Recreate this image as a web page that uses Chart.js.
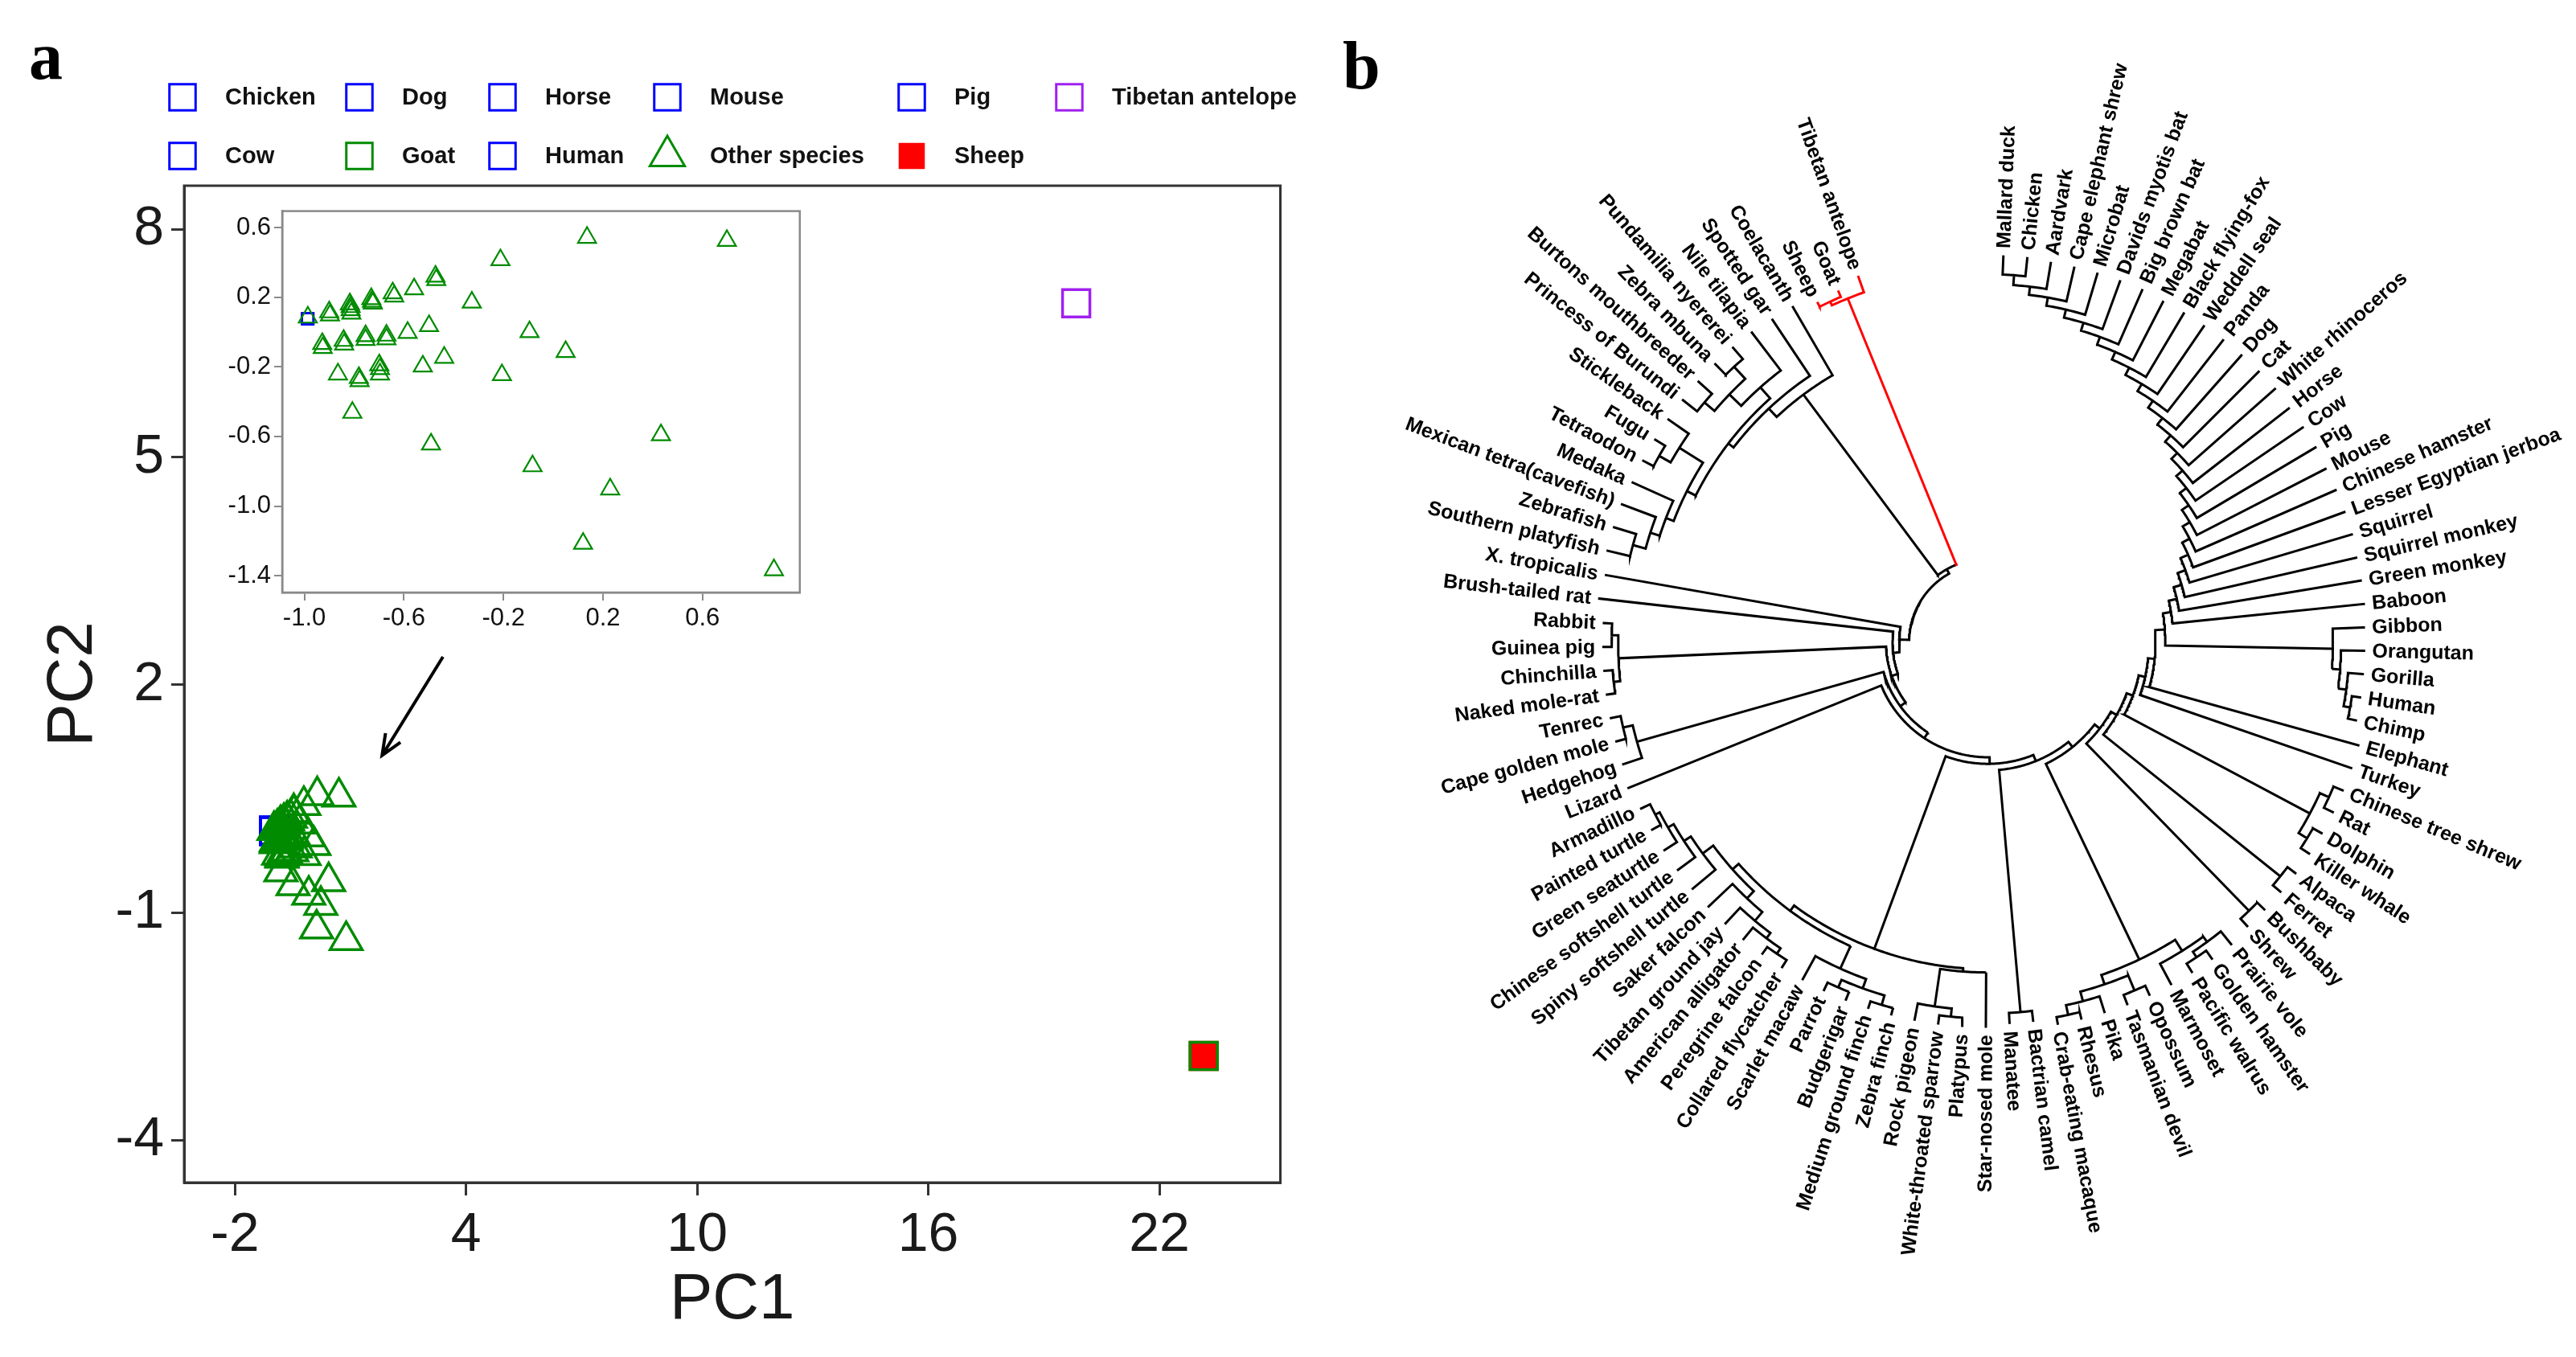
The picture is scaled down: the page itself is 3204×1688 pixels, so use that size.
<!DOCTYPE html>
<html>
<head>
<meta charset="utf-8">
<script src="https://cdn.jsdelivr.net/npm/chart.js@4.4.1/dist/chart.umd.min.js"></script>
<style>
  html, body { margin: 0; padding: 0; background: #fff; }
  body { position: relative; width: 3204px; height: 1688px; overflow: hidden; }
  canvas { position: absolute; }
  .panel-tag { position: absolute; font: bold 84px "Liberation Serif", "Times New Roman", serif; line-height: 1; color: #000; }
</style>
</head>
<body>
<div class="panel-tag" style="left:36px; top:28px;">a</div>
<div class="panel-tag" style="left:1670px; top:40px;">b</div>
<canvas id="pcaChart" width="1620" height="1688" style="left:0; top:0;"></canvas>
<canvas id="insetChart" width="780" height="570" style="left:230px; top:240px;"></canvas>
<canvas id="treeChart" width="1584" height="1688" style="left:1620px; top:0;"></canvas>
<script>
// ---------------- Panel a: PCA values ----------------
const pc1Ticks = [-2, 4, 10, 16, 22];
const pc2Ticks = [-4, -1, 2, 5, 8];
const insetPC1Ticks = [-1.0, -0.6, -0.2, 0.2, 0.6];
const insetPC2Ticks = [-1.4, -1.0, -0.6, -0.2, 0.2, 0.6];

const speciesNames = ['Chicken', 'Cow', 'Dog', 'Horse', 'Human', 'Mouse', 'Pig', 'Goat', 'Sheep', 'Tibetan antelope'];
const speciesPC1 = [-0.986, -0.986, -0.986, -0.986, -0.986, -0.986, -0.986, 23.15, 23.15, 19.84];
const speciesPC2 = [0.076, 0.076, 0.076, 0.076, 0.076, 0.076, 0.076, -2.89, -2.89, 7.03];

// "Other species" points
const otherPC1 = [0.136, 0.698, -0.212, -0.473, -0.470, -0.559, -0.645, -0.639, -0.731, -0.728,
                  -0.725, -0.817, -0.814, -0.814, -0.811, -0.327, -0.900, -0.897, -0.986, -0.499,
                  -0.095, -0.585, -0.670, -0.670, -0.754, -0.754, -0.842, -0.840, -0.928, -0.926,
                  0.050, -0.438, -0.524, -0.699, -0.696, -0.696, -0.865, -0.781, -0.778, -0.206,
                  -0.807, -0.491, 0.433, -0.083, 0.229, 0.120, 0.887];
const otherPC2 = [0.542, 0.524, 0.413, 0.319, 0.299, 0.246, 0.223, 0.205, 0.190, 0.175,
                  0.164, 0.160, 0.144, 0.126, 0.106, 0.170, 0.114, 0.096, 0.084, 0.035,
                  0.000, -0.004, -0.020, -0.041, -0.023, -0.045, -0.050, -0.071, -0.068, -0.091,
                  -0.114, -0.147, -0.197, -0.190, -0.212, -0.243, -0.243, -0.263, -0.281, -0.247,
                  -0.463, -0.645, -0.592, -0.770, -0.903, -1.215, -1.367];

// arrow from the inset down to the cluster (PC1, PC2)
const arrowFrom = [3.40, 2.37];
const arrowTo = [1.82, 1.07];

const legendOrder = ['Chicken', 'Cow', 'Dog', 'Goat', 'Horse', 'Human', 'Mouse', 'Other species', 'Pig', 'Sheep', 'Tibetan antelope'];

// ---------------- Panel b: tree values ----------------
const leafNames = [
  'Tibetan antelope', 'Goat', 'Sheep', 'Coelacanth', 'Spotted gar', 'Nile tilapia', 'Pundamilia nyererei',
  'Zebra mbuna', 'Burtons mouthbreeder', 'Princess of Burundi', 'Stickleback', 'Fugu', 'Tetraodon', 'Medaka',
  'Mexican tetra(cavefish)', 'Zebrafish', 'Southern platyfish', 'X. tropicalis', 'Brush-tailed rat', 'Rabbit',
  'Guinea pig', 'Chinchilla', 'Naked mole-rat', 'Tenrec', 'Cape golden mole', 'Hedgehog', 'Lizard', 'Armadillo',
  'Painted turtle', 'Green seaturtle', 'Chinese softshell turtle', 'Spiny softshell turtle', 'Saker falcon',
  'Tibetan ground jay', 'American alligator', 'Peregrine falcon', 'Collared flycatcher', 'Scarlet macaw', 'Parrot',
  'Budgerigar', 'Medium ground finch', 'Zebra finch', 'Rock pigeon', 'White-throated sparrow', 'Platypus',
  'Star-nosed mole', 'Manatee', 'Bactrian camel', 'Crab-eating macaque', 'Rhesus', 'Pika', 'Tasmanian devil',
  'Opossum', 'Marmoset', 'Pacific walrus', 'Golden hamster', 'Prairie vole', 'Shrew', 'Bushbaby', 'Ferret',
  'Alpaca', 'Killer whale', 'Dolphin', 'Rat', 'Chinese tree shrew', 'Turkey', 'Elephant', 'Chimp', 'Human',
  'Gorilla', 'Orangutan', 'Gibbon', 'Baboon', 'Green monkey', 'Squirrel monkey', 'Squirrel',
  'Lesser Egyptian jerboa', 'Chinese hamster', 'Mouse', 'Pig', 'Cow', 'Horse', 'White rhinoceros', 'Cat', 'Dog',
  'Panda', 'Weddell seal', 'Black flying-fox', 'Megabat', 'Big brown bat', 'Davids myotis bat', 'Microbat',
  'Cape elephant shrew', 'Aardvark', 'Chicken', 'Mallard duck'
];
const redLeaves = ['Tibetan antelope', 'Goat', 'Sheep'];

// clades in Newick form: leaf = index into leafNames, number after ':' = radial depth of that node
const cladeBovid = '(0:236,(1:232,2:231):228.5):226';
const cladeFish = '(3:236,(4:236,((5:237,((6:237,7:237):228,(8:237,9:237):226):218):208,((10:237,(11:237,12:237):230):222,(13:237,(14:238,(15:238,16:238):224):216):210):205):199):195):188';
const cladeRodent = '((19:234,20:234):229,(21:234,22:234):229):225';
const cladeTenrec = '((23:234,24:234):228,25:234):222';
const cladeTurtle = '((((27:234,28:234):228,29:234):225,30:234):221,31:234):216';
const cladeFalcon = '(32:234,(33:234,(34:234,(35:234,36:234):229):225):221):214';
const cladeParrot = '(37:234,((38:234,39:234):229,(40:234,41:234):230):224):218';
const cladePigeon = '((42:234,(43:234,44:234):229):224,45:234):201';
const cladeManatee = '(46:232,47:232):226';
const cladeMarsup = '((((48:236,49:236):232,50:236):226,(51:236,52:236):230):220,(53:236,((54:236,55:236):230,56:236):226):222):214';
const cladeWhale = '((61:234,62:234):228,(63:234,64:234):228):222';
const cladePrimate = '((((67:229,68:229):224,69:229):220,70:229):215,71:229):210';
const cladeStair = '(72:230,(73:230,(74:230,(75:231,(76:231,(77:231,(78:231,(79:232,(80:232,(81:232,(82:233,(83:233,(84:233,(85:233,(86:233,(87:233,(88:233,(89:234,(90:234,(91:234,(92:234,(93:234,(94:235,95:235):224):218):213):208):203):198):193):188):183):178):173):168):163):158):153):148):143):138):133):128):123):118):113';

const treeNewick =
  '((' + cladeBovid + ',' + cladeFish + '):51,' +
  '(17:236,(18:238,(' + cladeRodent + ',(' + cladeTenrec + ',(26:236,(' +
  '(((' + cladeTurtle + ',' + cladeFalcon + '):208,' + cladeParrot + '):203,' + cladePigeon + '):199,(' +
  cladeManatee + ',(' + cladeMarsup + ',((57:234,58:234):228,((59:234,60:234):228,(' +
  cladeWhale + ',(65:234,(66:234,(' + cladePrimate + ',' + cladeStair + '):108):102):98):94):90):86):82):78):74):70):66):62):58):54):48';

// ---------------- shared styles ----------------
const FONT = '"Liberation Sans", Arial, Helvetica, sans-serif';
const BLUE = '#0000FF', GREEN = '#008B00', PURPLE = '#A020F0', RED = '#FF0000';
const markerStyle = {
  'Chicken': { shape: 'rect', color: BLUE, fill: false },
  'Cow': { shape: 'rect', color: BLUE, fill: false },
  'Dog': { shape: 'rect', color: BLUE, fill: false },
  'Horse': { shape: 'rect', color: BLUE, fill: false },
  'Human': { shape: 'rect', color: BLUE, fill: false },
  'Mouse': { shape: 'rect', color: BLUE, fill: false },
  'Pig': { shape: 'rect', color: BLUE, fill: false },
  'Goat': { shape: 'rect', color: GREEN, fill: false },
  'Other species': { shape: 'triangle', color: GREEN, fill: false },
  'Sheep': { shape: 'rect', color: RED, fill: true },
  'Tibetan antelope': { shape: 'rect', color: PURPLE, fill: false }
};
Chart.defaults.font.family = FONT;

/**
 * Build scatter datasets; first in the list is drawn on top
 */
function pcaDatasets(names, squareRadius, triangleRadius, borderWidth) {
  return names.map(name => {
    const st = markerStyle[name];
    let data;
    if (name === 'Other species') {
      data = otherPC1.map((x, i) => ({ x: x, y: otherPC2[i] }));
    } else {
      const k = speciesNames.indexOf(name);
      data = [{ x: speciesPC1[k], y: speciesPC2[k] }];
    }
    return {
      label: name,
      data: data,
      pointStyle: st.shape,
      pointRadius: st.shape === 'triangle' ? triangleRadius : squareRadius,
      pointBorderWidth: borderWidth,
      pointBorderColor: st.color,
      pointBackgroundColor: st.fill ? st.color : 'rgba(0,0,0,0)'
    };
  });
}

function setTicks(values) {
  return scale => { scale.ticks = values.map(v => ({ value: v })); };
}

// box around the plotting area
function framePlugin(color, width) {
  return {
    id: 'frame',
    afterDraw(chart) {
      const { ctx, chartArea: a } = chart;
      ctx.save();
      ctx.strokeStyle = color;
      ctx.lineWidth = width;
      ctx.strokeRect(a.left, a.top, a.right - a.left, a.bottom - a.top);
      ctx.restore();
    }
  };
}

// white fill behind the inset plot
const insetBackground = {
  id: 'insetBackground',
  beforeDraw(chart) {
    const { ctx, chartArea: a } = chart;
    ctx.save();
    ctx.fillStyle = '#fff';
    ctx.fillRect(a.left, a.top, a.right - a.left, a.bottom - a.top);
    ctx.restore();
  }
};

function drawMarker(ctx, st, x, y, r, lw) {
  ctx.beginPath();
  if (st.shape === 'triangle') {
    for (let k = 0; k < 3; k++) {
      const a = k * 2 * Math.PI / 3;
      const px = x + Math.sin(a) * r, py = y - Math.cos(a) * r;
      if (k === 0) ctx.moveTo(px, py); else ctx.lineTo(px, py);
    }
    ctx.closePath();
  } else {
    const h = r * Math.SQRT1_2;
    ctx.rect(x - h, y - h, 2 * h, 2 * h);
  }
  if (st.fill) {
    ctx.fillStyle = st.color;
    ctx.fill();
  } else {
    ctx.strokeStyle = st.color;
    ctx.lineWidth = lw;
    ctx.stroke();
  }
}

// legend in two rows, filled column by column
const legendColX = [227, 447, 625, 830, 1134, 1330];
const legendRowY = [121, 194];
const pcaLegend = {
  id: 'pcaLegend',
  afterDraw(chart) {
    const ctx = chart.ctx;
    ctx.save();
    ctx.font = 'bold 29px ' + FONT;
    ctx.textBaseline = 'middle';
    legendOrder.forEach((name, i) => {
      const x = legendColX[Math.floor(i / 2)];
      const y = legendRowY[i % 2];
      const st = markerStyle[name];
      drawMarker(ctx, st, x, y, st.shape === 'triangle' ? 25 : 23, 3);
      ctx.fillStyle = '#111';
      ctx.fillText(name, x + 53, y + 1);
    });
    ctx.restore();
  }
};

const insetArrow = {
  id: 'insetArrow',
  afterDatasetsDraw(chart) {
    const { ctx, scales: { x, y } } = chart;
    const x0 = x.getPixelForValue(arrowFrom[0]), y0 = y.getPixelForValue(arrowFrom[1]);
    const x1 = x.getPixelForValue(arrowTo[0]), y1 = y.getPixelForValue(arrowTo[1]);
    const ang = Math.atan2(y1 - y0, x1 - x0);
    ctx.save();
    ctx.strokeStyle = '#000';
    ctx.lineWidth = 4;
    ctx.beginPath();
    ctx.moveTo(x0, y0);
    ctx.lineTo(x1, y1);
    ctx.moveTo(x1 - 28 * Math.cos(ang - 0.4), y1 - 28 * Math.sin(ang - 0.4));
    ctx.lineTo(x1, y1);
    ctx.lineTo(x1 - 28 * Math.cos(ang + 0.4), y1 - 28 * Math.sin(ang + 0.4));
    ctx.stroke();
    ctx.restore();
  }
};

// ---------------- main PCA plot ----------------
const mainAxis = (ticks, min, max, title, fit) => ({
  type: 'linear',
  min: min,
  max: max,
  afterBuildTicks: setTicks(ticks),
  afterFit: fit,
  grid: { display: true, drawOnChartArea: false, drawTicks: true, tickLength: 16, color: '#333', lineWidth: 3 },
  border: { display: true, color: '#333', width: 3 },
  ticks: { font: { size: 68 }, color: '#1a1a1a', padding: 9, maxRotation: 0, autoSkip: false },
  title: { display: true, text: title, font: { size: 80 }, color: '#1a1a1a', padding: { top: 44, bottom: 22 } }
});

new Chart(document.getElementById('pcaChart'), {
  type: 'scatter',
  data: {
    datasets: pcaDatasets(['Goat', 'Sheep', 'Tibetan antelope', 'Other species', 'Chicken', 'Cow', 'Dog', 'Horse', 'Human', 'Mouse', 'Pig'], 24, 23, 3.5)
  },
  options: {
    responsive: false,
    animation: false,
    devicePixelRatio: 1,
    events: [],
    layout: { padding: { left: 0, top: 231, right: 22, bottom: 0 } },
    plugins: { legend: { display: false }, tooltip: { enabled: false } },
    scales: {
      x: mainAxis(pc1Ticks, -3.32, 25.14, 'PC1', s => { s.height = 217; }),
      y: mainAxis(pc2Ticks, -4.56, 8.58, 'PC2', s => { s.width = 229; })
    }
  },
  plugins: [framePlugin('#333', 3), pcaLegend, insetArrow]
});

// ---------------- inset ----------------
const insetAxis = (ticks, min, max, fit) => ({
  type: 'linear',
  min: min,
  max: max,
  afterBuildTicks: setTicks(ticks),
  afterFit: fit,
  grid: { display: true, drawOnChartArea: false, drawTicks: true, tickLength: 10, color: '#8a8a8a', lineWidth: 2 },
  border: { display: true, color: '#8a8a8a', width: 2.5 },
  ticks: { font: { size: 31 }, color: '#111', padding: 4, maxRotation: 0, autoSkip: false, callback: v => v.toFixed(1) }
});

new Chart(document.getElementById('insetChart'), {
  type: 'scatter',
  data: {
    datasets: pcaDatasets(['Other species', 'Chicken', 'Cow', 'Dog', 'Horse', 'Human', 'Mouse', 'Pig'], 10, 13, 2.2)
  },
  options: {
    responsive: false,
    animation: false,
    devicePixelRatio: 1,
    events: [],
    layout: { padding: { left: 0, top: 10, right: 10, bottom: 0 } },
    plugins: { legend: { display: false }, tooltip: { enabled: false } },
    scales: {
      x: insetAxis(insetPC1Ticks, -1.089, 0.991, s => { s.height = 73; }),
      y: insetAxis(insetPC2Ticks, -1.496, 0.694, s => { s.width = 121; })
    }
  },
  plugins: [insetBackground, framePlugin('#8a8a8a', 2.5)]
});

// ---------------- Panel b: circular tree ----------------
const angle0 = 109.5;    // angle of first leaf (deg, counter-clockwise)
const angleStep = 3.56;  // degrees between neighbouring leaves
const labelGap = 5;

/**
 * Parse Newick-like text: leaves are indices, ':' value is radial depth
 */
function parseClade(text) {
  const str = text.replace(/\s+/g, '');
  let pos = 0;
  function readNumber() {
    const s = pos;
    while (pos < str.length && /[0-9.]/.test(str[pos])) pos++;
    return parseFloat(str.slice(s, pos));
  }
  function node() {
    const n = { children: [] };
    if (str[pos] === '(') {
      pos++;
      n.children.push(node());
      while (str[pos] === ',') {
        pos++;
        n.children.push(node());
      }
      pos++; // ')'
    } else {
      n.leaf = readNumber();
    }
    if (str[pos] === ':') {
      pos++;
      n.depth = readNumber();
    }
    return n;
  }
  return node();
}

const treeRoot = parseClade(treeNewick);
const treeLeaves = [];

function layoutNode(n) {
  if (!n.children.length) {
    n.angle = angle0 + n.leaf * angleStep;
    n.red = redLeaves.includes(leafNames[n.leaf]);
    treeLeaves.push(n);
    return;
  }
  n.children.forEach(layoutNode);
  n.angle = n.children.reduce((s, c) => s + c.angle, 0) / n.children.length;
  n.red = n.children.every(c => c.red);
}
layoutNode(treeRoot);

function polar(r, deg) {
  const a = deg * Math.PI / 180;
  return { x: r * Math.cos(a), y: r * Math.sin(a) };
}

const blackEdges = [];
const redEdges = [];
function addPath(points, red) {
  const target = red ? redEdges : blackEdges;
  points.forEach(p => target.push(p));
  target.push({ x: 0, y: null });
}

function addEdges(n) {
  if (!n.children.length) return;
  const kids = n.children.slice().sort((a, b) => a.angle - b.angle);
  const first = kids[0], last = kids[kids.length - 1];
  const path = [];
  if (first.red === n.red) path.push(polar(first.depth, first.angle));
  for (let a = first.angle; a < last.angle; a += 0.5) path.push(polar(n.depth, a));
  path.push(polar(n.depth, last.angle));
  if (last.red === n.red) path.push(polar(last.depth, last.angle));
  addPath(path, n.red);
  kids.forEach((c, i) => {
    const joined = (i === 0 || i === kids.length - 1) && c.red === n.red;
    if (!joined) addPath([polar(n.depth, c.angle), polar(c.depth, c.angle)], c.red);
    addEdges(c);
  });
}
addEdges(treeRoot);

const leafLabels = {
  id: 'leafLabels',
  afterDatasetsDraw(chart) {
    const { ctx, scales: { x, y } } = chart;
    ctx.save();
    ctx.font = 'bold 25px ' + FONT;
    ctx.fillStyle = '#000';
    ctx.textBaseline = 'middle';
    treeLeaves.forEach(leaf => {
      const p = polar(leaf.depth + labelGap, leaf.angle);
      const a = ((leaf.angle % 360) + 360) % 360;
      const flip = a > 90 && a < 270;
      ctx.save();
      ctx.translate(x.getPixelForValue(p.x), y.getPixelForValue(p.y));
      ctx.rotate(-a * Math.PI / 180 + (flip ? Math.PI : 0));
      ctx.textAlign = flip ? 'right' : 'left';
      ctx.fillText(leafNames[leaf.leaf], 0, 1);
      ctx.restore();
    });
    ctx.restore();
  }
};

const edgeStyle = { showLine: true, pointRadius: 0, borderWidth: 3, spanGaps: false, tension: 0, borderCapStyle: 'square', borderJoinStyle: 'miter' };

new Chart(document.getElementById('treeChart'), {
  type: 'scatter',
  data: {
    datasets: [
      Object.assign({ label: 'highlight', data: redEdges, borderColor: '#FF0000' }, edgeStyle),
      Object.assign({ label: 'tree', data: blackEdges, borderColor: '#000' }, edgeStyle)
    ]
  },
  options: {
    responsive: false,
    animation: false,
    devicePixelRatio: 1,
    events: [],
    layout: { padding: 0 },
    plugins: { legend: { display: false }, tooltip: { enabled: false } },
    scales: {
      x: { type: 'linear', display: false, min: -417.2, max: 358.0 },
      y: { type: 'linear', display: false, min: -435.1, max: 391.0 }
    }
  },
  plugins: [leafLabels]
});
</script>
</body>
</html>
